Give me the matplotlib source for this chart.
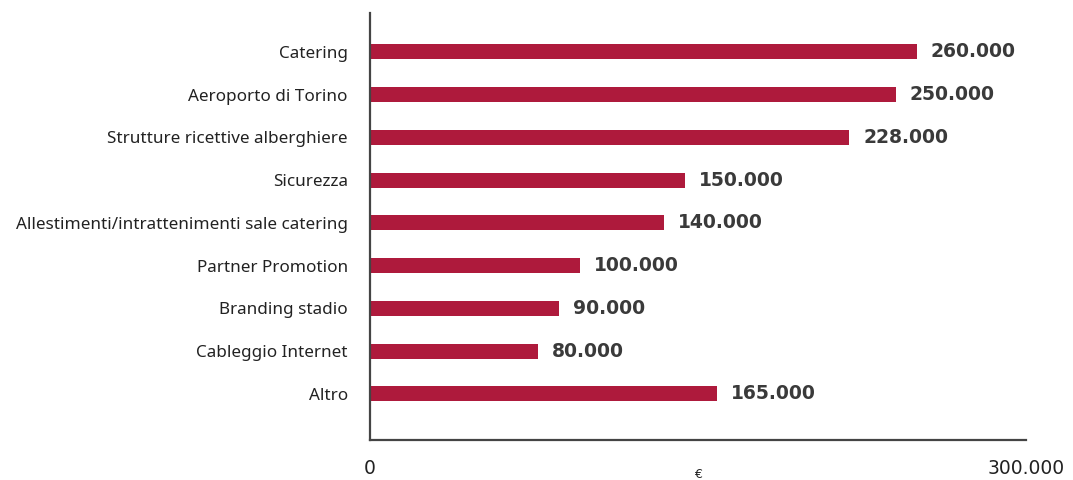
import matplotlib.pyplot as plt
import numpy as np

categories = ['Catering', 'Aeroporto di Torino', 'Strutture ricettive alberghiere',
              'Sicurezza', 'Allestimenti/intrattenimenti sale catering',
              'Partner Promotion', 'Branding stadio', 'Cableggio Internet', 'Altro']
values = [260000, 250000, 228000, 150000, 140000, 100000, 90000, 80000, 165000]
value_labels = ['260.000', '250.000', '228.000', '150.000', '140.000',
                '100.000', '90.000', '80.000', '165.000']

bar_color = '#ae1a3c'
text_color = '#3a3a3a'

fig = plt.figure(figsize=(10.73, 4.8), dpi=100)
ax = fig.add_axes([370 / 1073, 40 / 480, 656 / 1073, 427 / 480])

y = np.arange(len(categories))
ax.barh(y, values, height=0.35, color=bar_color)

for yi, v, lab in zip(y, values, value_labels):
    ax.annotate(lab, xy=(v, yi), xytext=(10, 0), textcoords='offset points',
                ha='left', va='center', fontsize=13.5, fontweight='bold',
                family='DejaVu Sans', color=text_color)

ax.set_xlim(0, 312000)
ax.set_ylim(len(categories) - 1 + 1.08, -0.91)

ax.set_yticks(y)
ax.set_yticklabels(categories, fontsize=12.3, family='Noto Sans', color='#222222')
ax.tick_params(axis='y', length=0, pad=16)

ax.set_xticks([0, 312000])
ax.set_xticklabels(['0', '300.000'], fontsize=13.5, family='DejaVu Sans', color='#222222')
ax.tick_params(axis='x', length=0, pad=14)
ax.get_xticklabels()[1].set_x(312000)
fig.text(698 / 1073, 1 - 474 / 480, '€', fontsize=9, family='DejaVu Sans',
         color='#222222', ha='center', va='center')

for side in ['top', 'right']:
    ax.spines[side].set_visible(False)
for side in ['left', 'bottom']:
    ax.spines[side].set_color('#444444')
    ax.spines[side].set_linewidth(1.6)

plt.savefig('out.png', dpi=100)
